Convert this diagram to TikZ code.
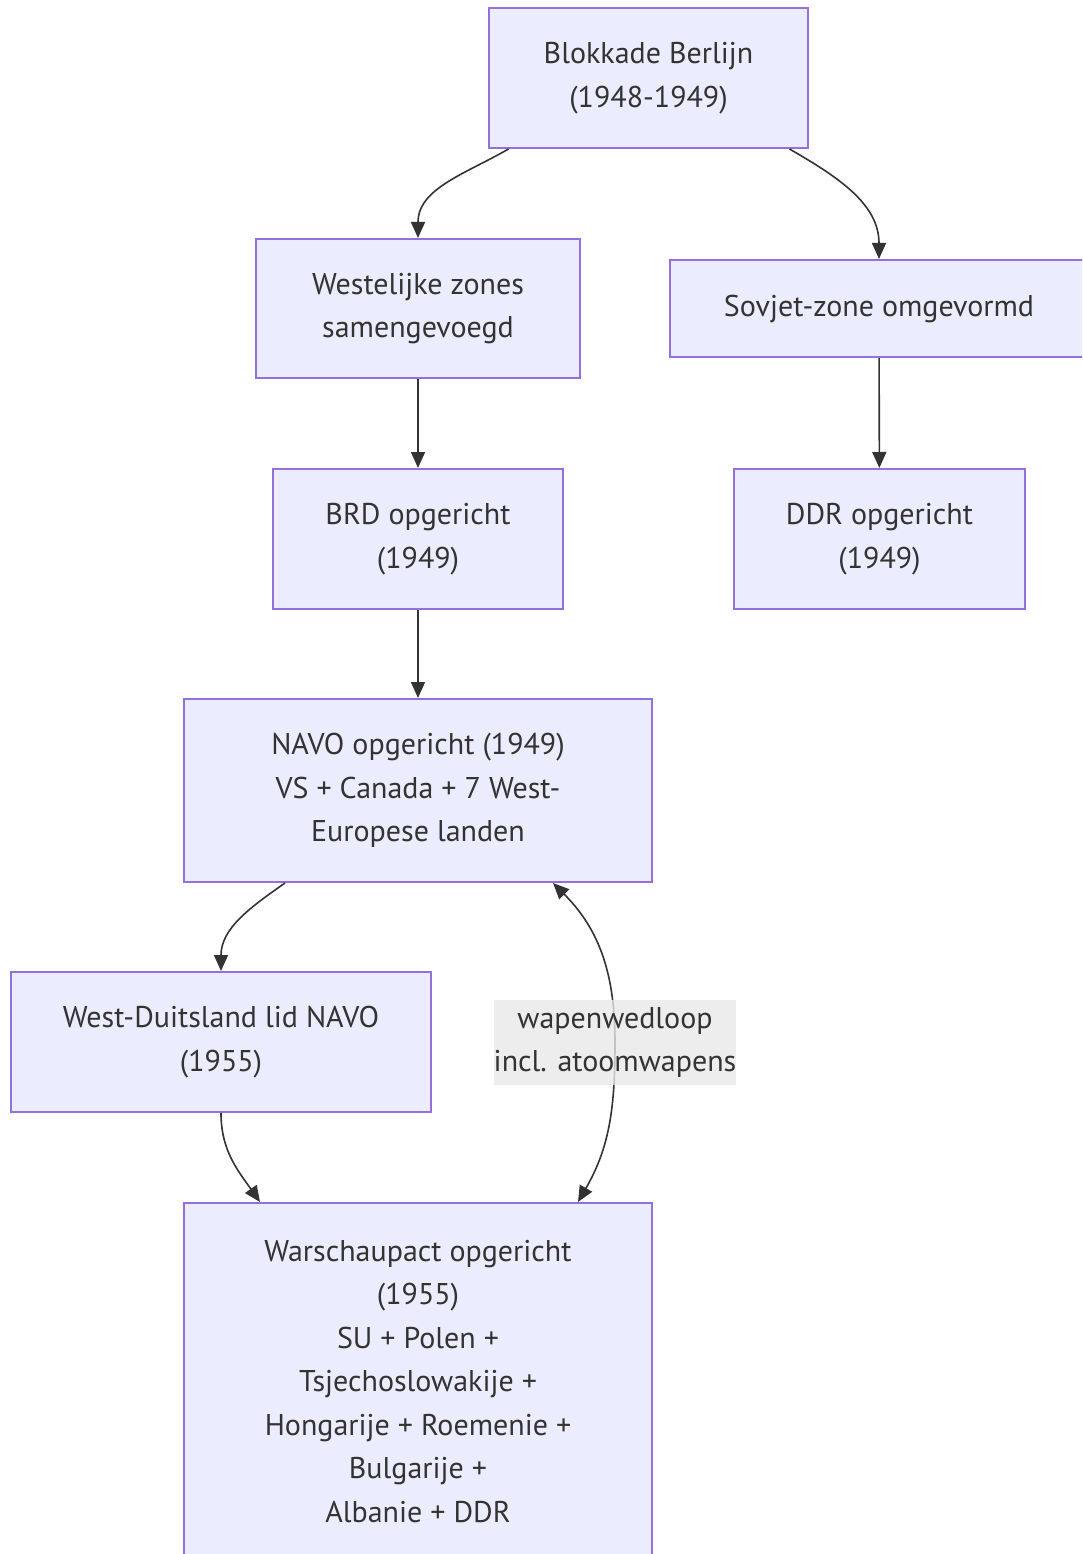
\documentclass[tikz,border=0pt]{standalone}
\usepackage{fontspec}
\setmainfont{PT Sans}
\usetikzlibrary{arrows.meta,calc}

\definecolor{boxfill}{HTML}{ECECFF}
\definecolor{boxline}{HTML}{9370DB}
\definecolor{txt}{HTML}{333333}
\definecolor{lblgray}{HTML}{E8E8E8}

\begin{document}
\begin{tikzpicture}[x=1pt,y=-1pt,
        box/.style={draw=boxline,fill=boxfill,line width=2pt,align=center,inner sep=0pt,text=txt,
                font=\fontsize{30}{43.5}\selectfont},
        lblbox/.style={fill=lblgray,fill opacity=0.8,text opacity=1,align=center,inner sep=0pt,text=txt,
                minimum width=242pt,minimum height=85pt,font=\fontsize{30}{43.5}\selectfont},
        arr/.style={-{Triangle[length=16pt,width=14pt]},draw=txt,line width=1.6pt}]

            \useasboundingbox (0,0) rectangle (1082,1554);
            \clip (0,0) rectangle (1082,1554);

            \node[box,minimum width=319pt,minimum height=140pt] (blk) at (648.5,78) {Blokkade Berlijn\\(1948-1949)};
            \node[box,minimum width=324pt,minimum height=139pt] (wst) at (418,308.5) {Westelijke zones\\samengevoegd};
            \node[box,minimum width=418pt,minimum height=97pt] (sov) at (879,308.5) {Sovjet-zone omgevormd};
            \node[box,minimum width=290pt,minimum height=140pt] (brd) at (418,539) {BRD opgericht\\(1949)};
            \node[box,minimum width=291pt,minimum height=140pt] (ddr) at (879.5,539) {DDR opgericht\\(1949)};
            \node[box,minimum width=468pt,minimum height=183pt] (navo) at (418,790.5) {NAVO opgericht (1949)\\VS + Canada + 7 West-\\Europese landen};
            \node[box,minimum width=420pt,minimum height=140pt] (wdl) at (221,1042) {West-Duitsland lid NAVO\\(1955)};
            \node[box,minimum width=468pt,minimum height=357pt] (war) at (418,1381.5) {Warschaupact opgericht\\(1955)\\SU + Polen +\\Tsjechoslowakije +\\Hongarije + Roemenie +\\Bulgarije +\\Albanie + DDR};

            \foreach \a/\b in {wst/brd,sov/ddr,brd/navo} {
                    \draw[arr] (\a) -- (\b);
                }

            \draw[arr] ($(blk.south)+(-140,0)$) to[out=-150,in=90] (wst.north);
            \draw[arr] ($(blk.south)+(141,0)$) to[out=-30,in=90] (sov.north);
            \draw[arr] ($(navo.south)+(-133,0)$) to[out=-145,in=90] (wdl.north);
            \draw[arr] (wdl.south) to[out=-90,in=125] ($(war.north)+(-158,0)$);

            \coordinate (mid) at (615,1042.5);
            \draw[arr,{Triangle[length=16pt,width=14pt]}-{Triangle[length=16pt,width=14pt]}]
            ($(navo.south)+(135,0)$) to[out=-45,in=90] (mid) to[out=-90,in=60] ($(war.north)+(160,0)$);
            \node[lblbox] (lbl) at (mid) {wapenwedloop\\incl. atoomwapens};
        \end{tikzpicture}
\end{document}
